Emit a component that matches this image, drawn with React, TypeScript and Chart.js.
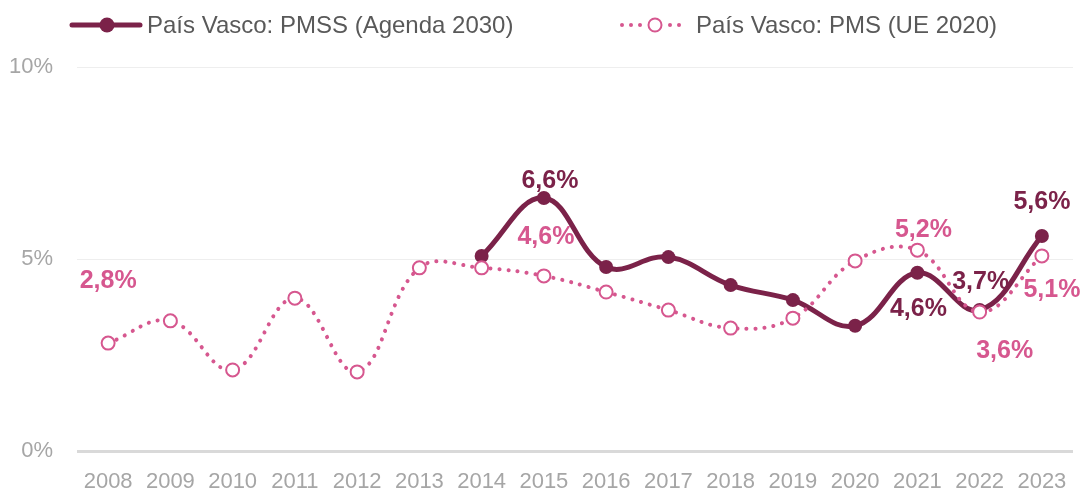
import React, { useEffect, useRef } from "react";
import { Chart, registerables } from "chart.js";

Chart.register(...registerables);

const years = ["2008","2009","2010","2011","2012","2013","2014","2015","2016","2017","2018","2019","2020","2021","2022","2023"];
const pmssAgenda2030 = [null, null, null, null, null, null, 5.08, 6.59, 4.79, 5.05, 4.32, 3.93, 3.26, 4.64, 3.67, 5.6];
const pmsUe2020 = [2.81, 3.39, 2.11, 3.98, 2.06, 4.77, 4.77, 4.56, 4.14, 3.67, 3.2, 3.46, 4.95, 5.23, 3.62, 5.08];
const yTicks = [0, 5, 10];
const seriesNames = ["País Vasco: PMSS (Agenda 2030)", "País Vasco: PMS (UE 2020)"];

const DARK = "#7B2249";
const PINK = "#D6578F";
const FONT = "'Liberation Sans', Arial, sans-serif";

// which points get a value label, and where (offset from the point, px)
const labelPlacement = [
  { ds: 1, i: 0, dx: 0, dy: -62 },
  { ds: 0, i: 7, dx: 6, dy: -17 },
  { ds: 1, i: 7, dx: 2, dy: -39 },
  { ds: 1, i: 13, dx: 6, dy: -20 },
  { ds: 0, i: 13, dx: 1, dy: 36 },
  { ds: 0, i: 14, dx: 1, dy: -28 },
  { ds: 1, i: 14, dx: 25, dy: 39 },
  { ds: 0, i: 15, dx: 0, dy: -34 },
  { ds: 1, i: 15, dx: 10, dy: 34 },
];

const fmt = (v: number) => v.toFixed(1).replace(".", ",") + "%";

const labelsPlugin = {
  id: "valueLabels",
  afterDatasetsDraw(chart: any) {
    const ctx = chart.ctx;
    ctx.save();
    ctx.font = `bold 25px ${FONT}`;
    ctx.textAlign = "center";
    ctx.textBaseline = "middle";
    for (const p of labelPlacement) {
      const meta = chart.getDatasetMeta(p.ds);
      const el = meta.data[p.i];
      const v = chart.data.datasets[p.ds].data[p.i];
      if (!el || v == null) continue;
      ctx.fillStyle = p.ds === 0 ? DARK : PINK;
      ctx.fillText(fmt(v), el.x + p.dx, el.y + p.dy);
    }
    ctx.restore();
  },
};

const legendPlugin = {
  id: "customLegend",
  afterDraw(chart: any) {
    const ctx = chart.ctx;
    ctx.save();
    const y = 25;
    // item 1
    ctx.strokeStyle = DARK;
    ctx.lineWidth = 5;
    ctx.lineCap = "round";
    ctx.beginPath();
    ctx.moveTo(72, y);
    ctx.lineTo(140, y);
    ctx.stroke();
    ctx.fillStyle = DARK;
    ctx.beginPath();
    ctx.arc(107, y, 7.5, 0, Math.PI * 2);
    ctx.fill();
    // item 2
    ctx.fillStyle = PINK;
    for (const x of [622, 631, 640, 670, 679]) {
      ctx.beginPath();
      ctx.arc(x, y, 2, 0, Math.PI * 2);
      ctx.fill();
    }
    ctx.strokeStyle = PINK;
    ctx.lineWidth = 2;
    ctx.fillStyle = "#fff";
    ctx.beginPath();
    ctx.arc(655, y, 6.5, 0, Math.PI * 2);
    ctx.fill();
    ctx.stroke();
    // texts
    ctx.font = `24px ${FONT}`;
    ctx.fillStyle = "#595959";
    ctx.textAlign = "left";
    ctx.textBaseline = "middle";
    ctx.fillText(seriesNames[0], 147, y + 1);
    ctx.fillText(seriesNames[1], 696, y + 1);
    ctx.restore();
  },
};

export default function App() {
  const ref = useRef<HTMLCanvasElement>(null);
  useEffect(() => {
    document.body.style.margin = "0";
    const chart = new Chart(ref.current!, {
      type: "line",
      data: {
        labels: years,
        datasets: [
          {
            label: seriesNames[0],
            data: pmssAgenda2030,
            borderColor: DARK,
            backgroundColor: DARK,
            borderWidth: 5,
            tension: 0.4,
            pointRadius: 7,
            pointBorderWidth: 0,
            pointBackgroundColor: DARK,
            spanGaps: false,
            order: 1,
          },
          {
            label: seriesNames[1],
            data: pmsUe2020,
            borderColor: PINK,
            backgroundColor: "#fff",
            borderWidth: 4,
            borderDash: [0.1, 9],
            borderCapStyle: "round",
            tension: 0.4,
            pointRadius: 6.5,
            pointBorderWidth: 2,
            pointBorderColor: PINK,
            pointBackgroundColor: "#fff",
            order: 0,
          },
        ],
      },
      options: {
        responsive: false,
        animation: false,
        layout: { padding: { top: 67, right: 10, left: 0, bottom: 0 } },
        plugins: { legend: { display: false }, tooltip: { enabled: false } },
        scales: {
          x: {
            offset: true,
            grid: { display: false, offset: true },
            border: { display: false },
            ticks: { color: "#A6A6A6", font: { family: FONT, size: 22 }, padding: 10, maxRotation: 0, autoSkip: false },
            afterFit: (s: any) => { s.height = 41; },
          },
          y: {
            min: 0,
            max: 10,
            afterBuildTicks: (s: any) => { s.ticks = yTicks.map((v) => ({ value: v })); },
            grid: {
              drawTicks: false,
              color: (c: any) => (c.tick && c.tick.value === 0 ? "#D9D9D9" : "#EEEEEE"),
              lineWidth: (c: any) => (c.tick && c.tick.value === 0 ? 3 : 1),
            },
            border: { display: false },
            ticks: { color: "#A6A6A6", font: { family: FONT, size: 22 }, padding: 24, callback: (v: any) => v + "%" },
            afterFit: (s: any) => { s.width = 77; },
          },
        },
      },
      plugins: [labelsPlugin, legendPlugin],
    });
    return () => chart.destroy();
  }, []);
  return (
    <div style={{ width: 1083, height: 492 }}>
      <canvas ref={ref} width={1083} height={492} style={{ display: "block" }} />
    </div>
  );
}
